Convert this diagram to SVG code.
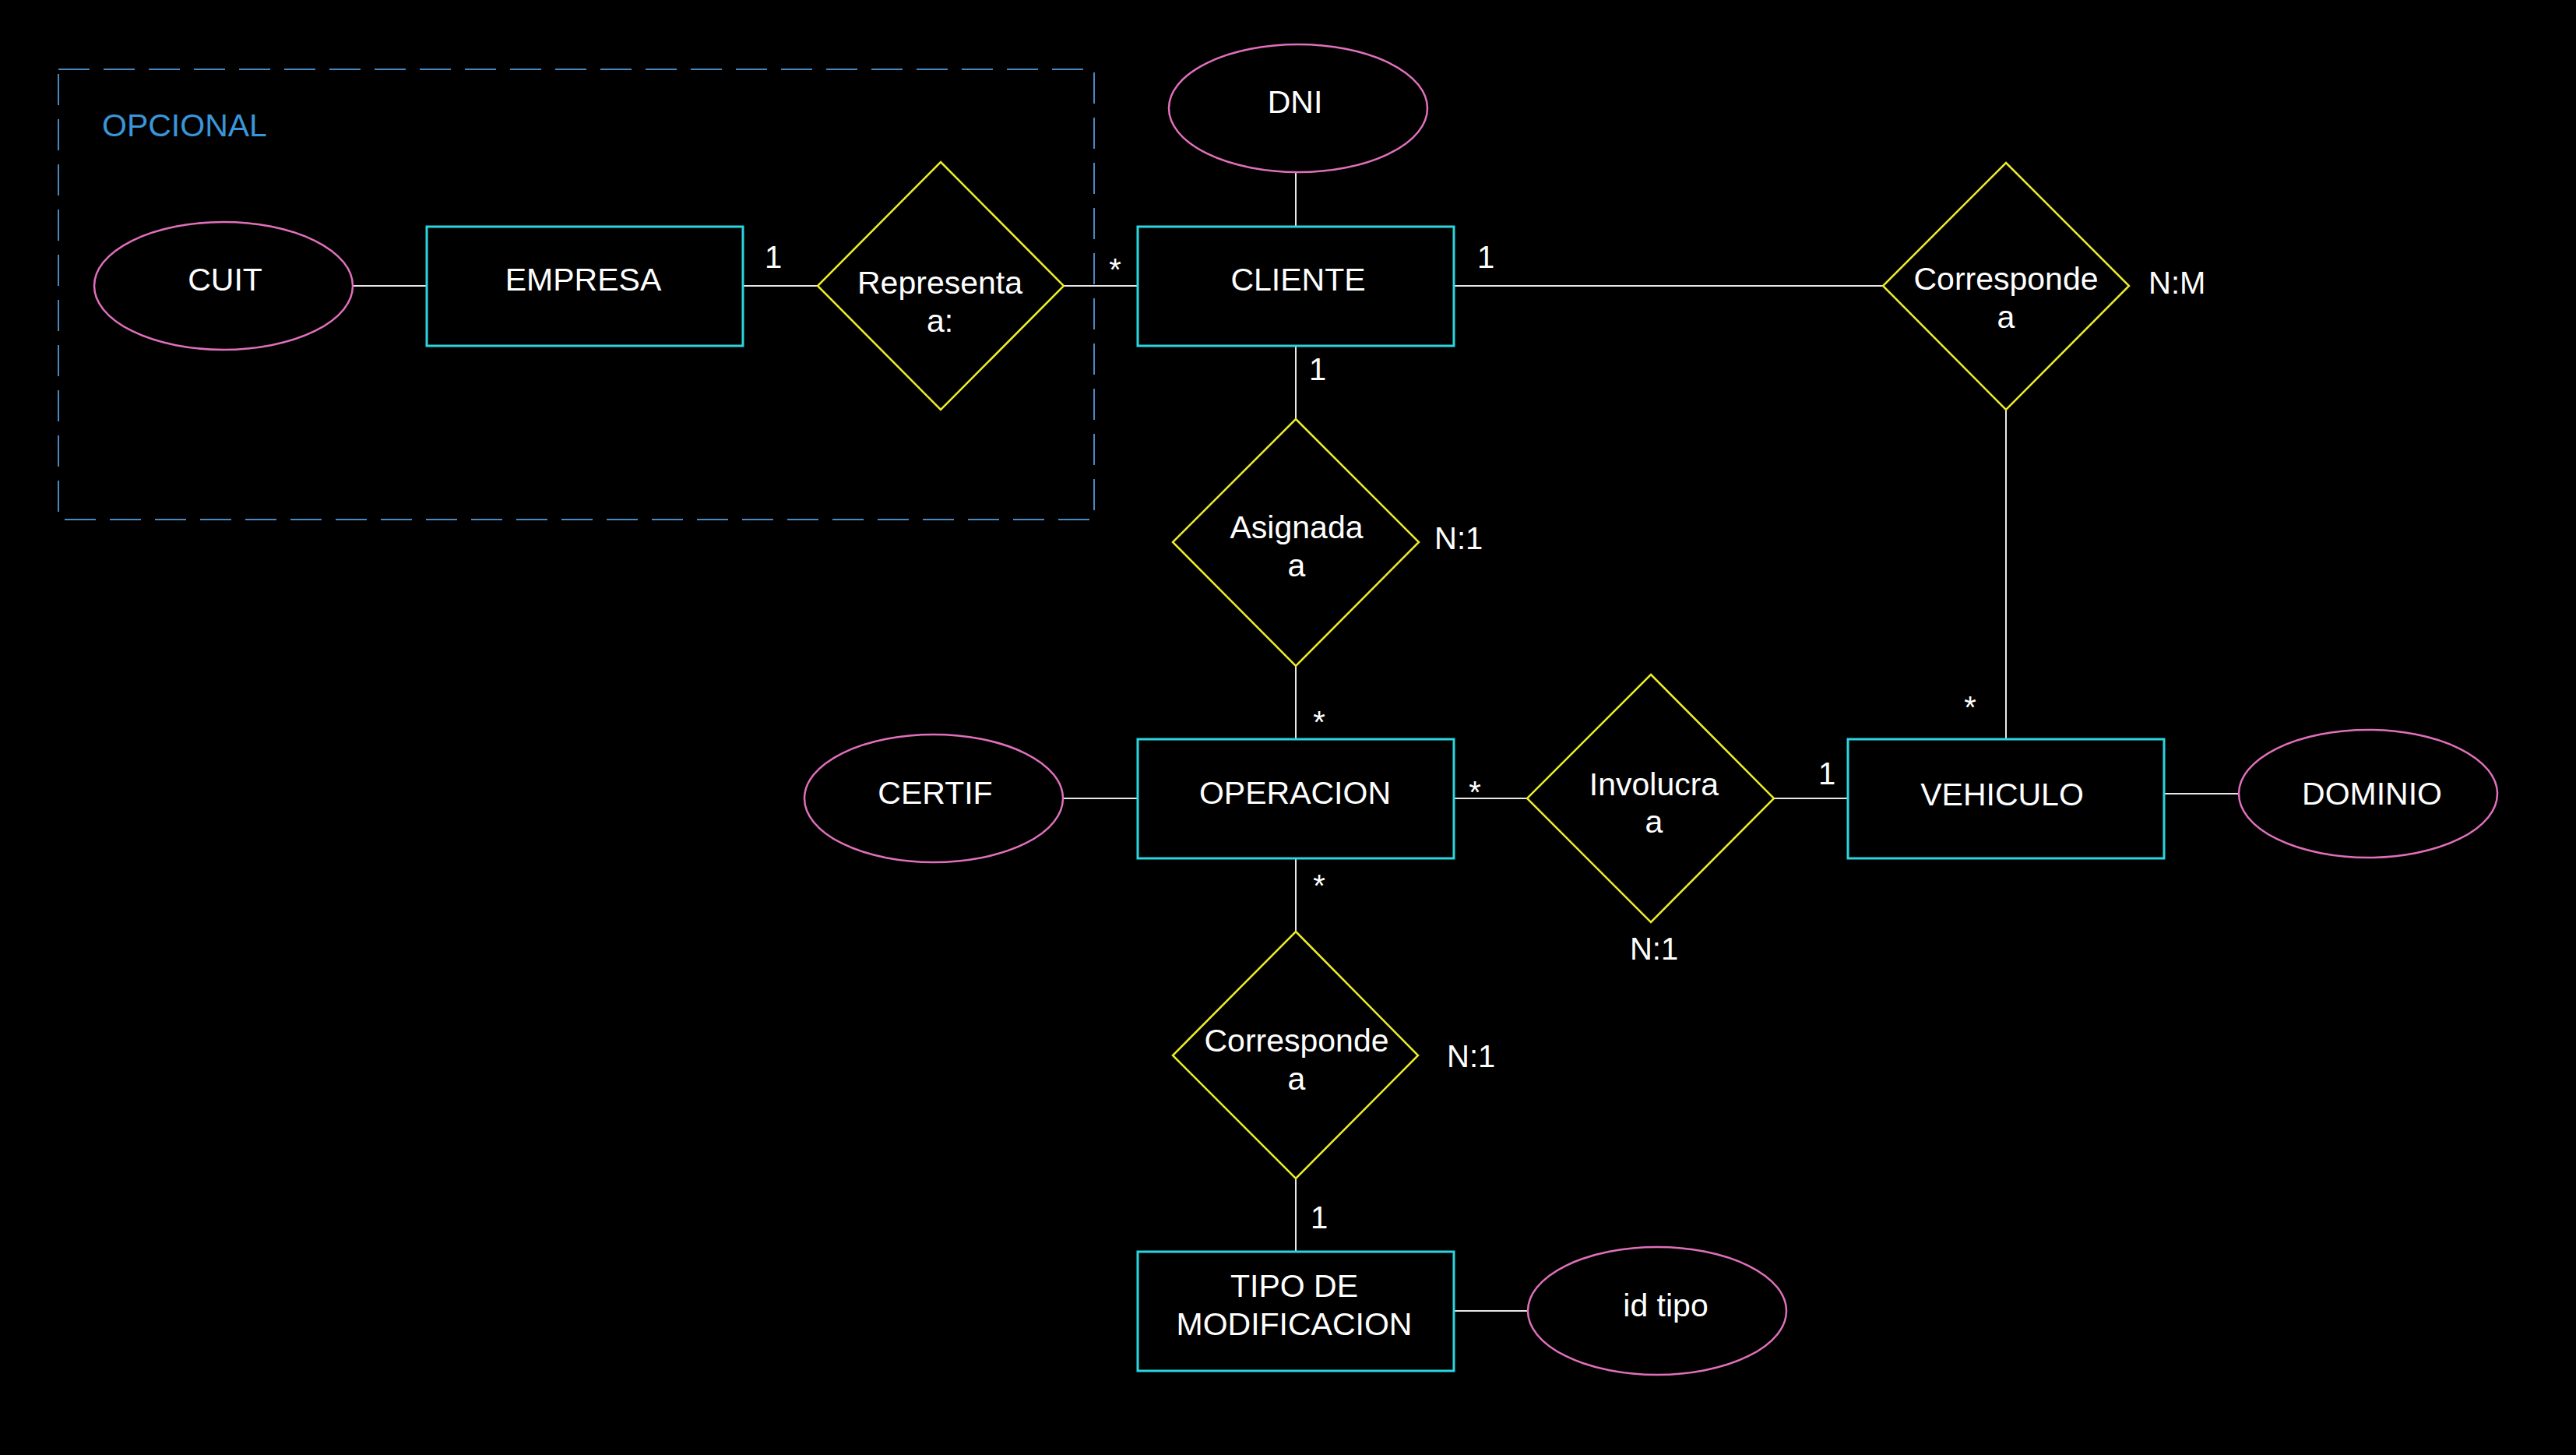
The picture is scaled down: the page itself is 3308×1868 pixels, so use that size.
<svg xmlns="http://www.w3.org/2000/svg" width="3308" height="1868" viewBox="0 0 3308 1868">
<style>
.bg{fill:#000}
.ent{fill:none;stroke:#2ad6e0;stroke-width:3}
.rel{fill:none;stroke:#ecec2a;stroke-width:2.5}
.att{fill:none;stroke:#e070bc;stroke-width:2.5}
.con{stroke:#e8e8e8;stroke-width:2;fill:none}
.grp{fill:none;stroke:#4a88c0;stroke-width:2;stroke-dasharray:40 18}
text{font-family:"Liberation Sans",Arial,Helvetica,sans-serif;fill:#fff}
.t{font-size:41px;text-anchor:middle}
.c{font-size:40px}
.cm{font-size:40px;text-anchor:middle}
.op{font-size:41px;fill:#3a96d8}
</style>
<rect class="bg" x="0" y="0" width="3308" height="1868"/>

<g id="opcional">
<rect class="grp" x="75" y="89" width="1330" height="578"/>
<text class="op" x="131" y="175">OPCIONAL</text>
</g>

<g id="connectors">
<line class="con" x1="453" y1="367" x2="548" y2="367"/>
<line class="con" x1="954" y1="367" x2="1050" y2="367"/>
<line class="con" x1="1366" y1="367" x2="1461" y2="367"/>
<line class="con" x1="1664" y1="221" x2="1664" y2="291"/>
<line class="con" x1="1867" y1="367" x2="2418" y2="367"/>
<line class="con" x1="2576" y1="526" x2="2576" y2="949"/>
<line class="con" x1="1664" y1="443" x2="1664" y2="538"/>
<line class="con" x1="1664" y1="855" x2="1664" y2="949"/>
<line class="con" x1="1365" y1="1025" x2="1461" y2="1025"/>
<line class="con" x1="1867" y1="1025" x2="1961" y2="1025"/>
<line class="con" x1="2278" y1="1025" x2="2373" y2="1025"/>
<line class="con" x1="2779" y1="1019" x2="2875" y2="1019"/>
<line class="con" x1="1664" y1="1102" x2="1664" y2="1196"/>
<line class="con" x1="1664" y1="1513" x2="1664" y2="1607"/>
<line class="con" x1="1867" y1="1683" x2="1961" y2="1683"/>
</g>

<g id="labels">
<text class="c" x="982" y="344">1</text>
<text class="cm" x="1432" y="360">*</text>
<text class="c" x="1897" y="344">1</text>
<text class="cm" x="1692" y="488">1</text>
<text class="c" x="1842" y="705">N:1</text>
<text class="cm" x="1694" y="941">*</text>
<text class="cm" x="2530" y="922">*</text>
<text class="cm" x="1894" y="1031">*</text>
<text class="c" x="2335" y="1007">1</text>
<text class="cm" x="2124" y="1232">N:1</text>
<text class="cm" x="1694" y="1151">*</text>
<text class="c" x="1858" y="1370">N:1</text>
<text class="cm" x="1694" y="1577">1</text>
<text class="c" x="2759" y="377">N:M</text>
</g>

<g id="cuit">
<ellipse class="att" cx="287" cy="367" rx="166" ry="82"/>
<text class="t" x="289" y="373">CUIT</text>
</g>
<g id="empresa">
<rect class="ent" x="548" y="291" width="406" height="153"/>
<text class="t" x="749" y="373">EMPRESA</text>
</g>
<g id="representa">
<polygon class="rel" points="1208,208 1366,367 1208,526 1050,367"/>
<text class="t" x="1207" y="377">Representa</text>
<text class="t" x="1207" y="426">a:</text>
</g>
<g id="dni">
<ellipse class="att" cx="1667" cy="139" rx="166" ry="82"/>
<text class="t" x="1663" y="145">DNI</text>
</g>
<g id="cliente">
<rect class="ent" x="1461" y="291" width="406" height="153"/>
<text class="t" x="1667" y="373">CLIENTE</text>
</g>
<g id="corresponde1">
<polygon class="rel" points="2576,209 2734,367 2576,526 2418,367"/>
<text class="t" x="2576" y="372">Corresponde</text>
<text class="t" x="2576" y="421">a</text>
</g>
<g id="asignada">
<polygon class="rel" points="1664,538 1822,696 1664,855 1506,696"/>
<text class="t" x="1665" y="691">Asignada</text>
<text class="t" x="1665" y="740">a</text>
</g>
<g id="certif">
<ellipse class="att" cx="1199" cy="1025" rx="166" ry="82"/>
<text class="t" x="1201" y="1032">CERTIF</text>
</g>
<g id="operacion">
<rect class="ent" x="1461" y="949" width="406" height="153"/>
<text class="t" x="1663" y="1032">OPERACION</text>
</g>
<g id="involucra">
<polygon class="rel" points="2120,866 2278,1025 2120,1184 1961,1025"/>
<text class="t" x="2124" y="1021">Involucra</text>
<text class="t" x="2124" y="1069">a</text>
</g>
<g id="vehiculo">
<rect class="ent" x="2373" y="949" width="406" height="153"/>
<text class="t" x="2571" y="1034">VEHICULO</text>
</g>
<g id="dominio">
<ellipse class="att" cx="3041" cy="1019" rx="166" ry="82"/>
<text class="t" x="3046" y="1033">DOMINIO</text>
</g>
<g id="corresponde2">
<polygon class="rel" points="1664,1196 1821,1355 1664,1513 1506,1355"/>
<text class="t" x="1665" y="1350">Corresponde</text>
<text class="t" x="1665" y="1399">a</text>
</g>
<g id="tipo">
<rect class="ent" x="1461" y="1607" width="406" height="153"/>
<text class="t" x="1662" y="1665">TIPO DE</text>
<text class="t" x="1662" y="1714">MODIFICACION</text>
</g>
<g id="idtipo">
<ellipse class="att" cx="2128" cy="1683" rx="166" ry="82"/>
<text class="t" x="2139" y="1690">id tipo</text>
</g>
</svg>
